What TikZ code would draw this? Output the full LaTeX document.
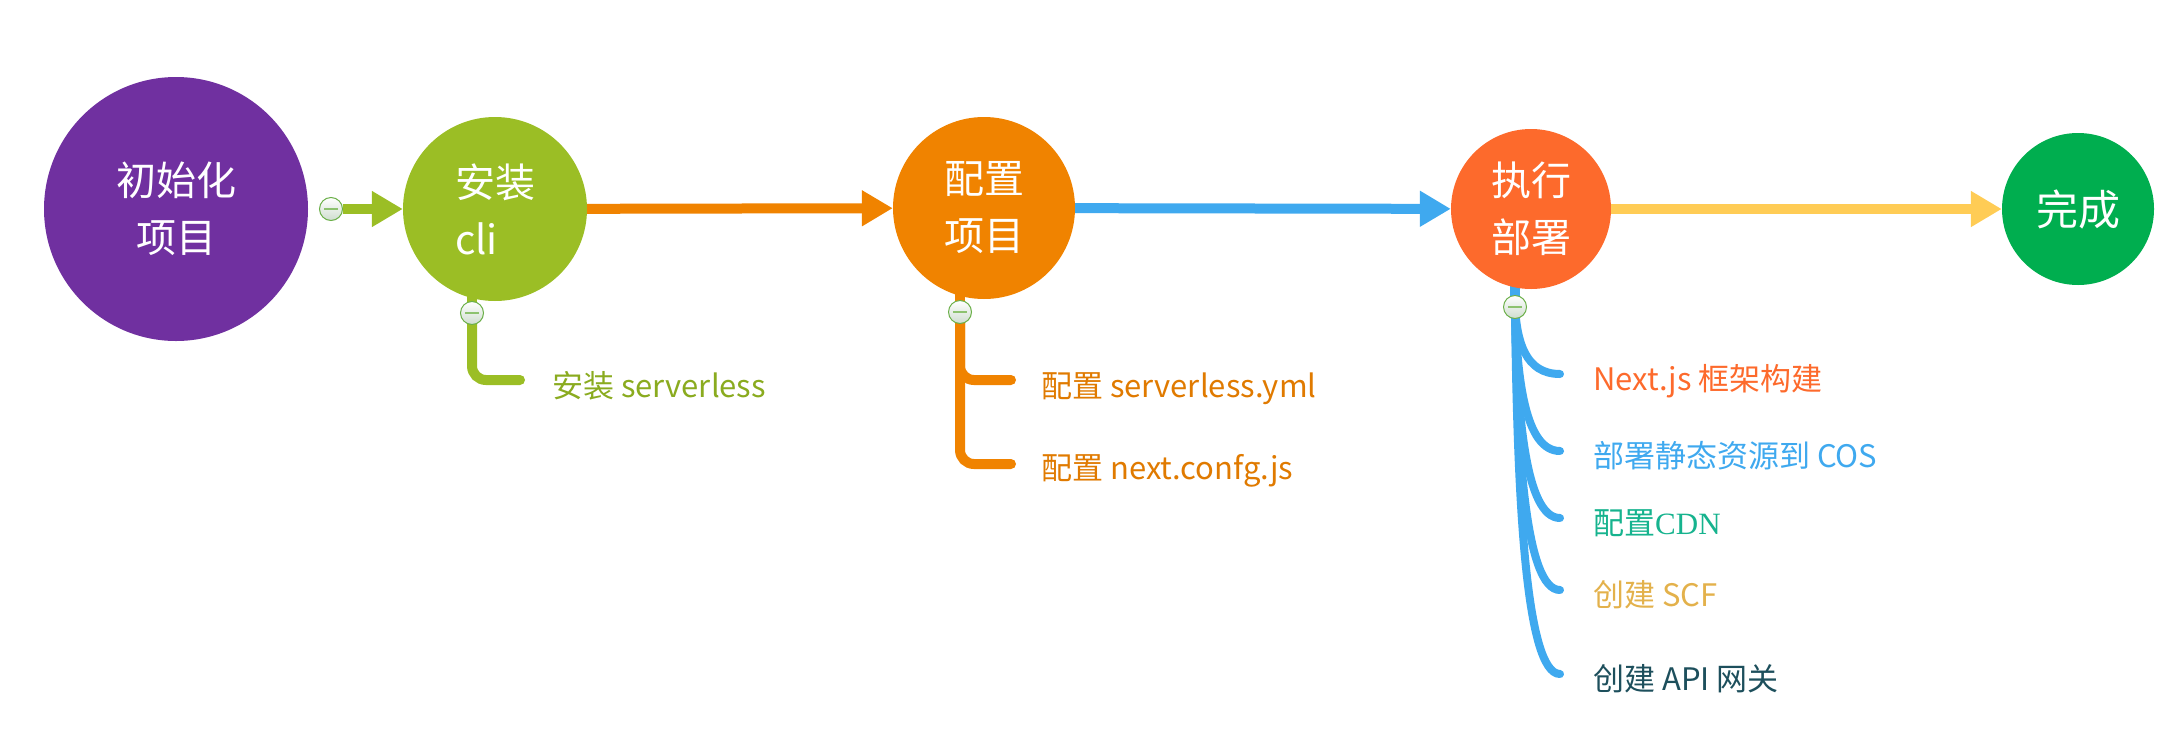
\documentclass[tikz,border=0pt]{standalone}
\usepackage{fontspec}
\setmainfont{Noto Sans CJK SC}
\newfontfamily\cdnfont{Liberation Serif}
\usetikzlibrary{arrows.meta,backgrounds}

\definecolor{initPurple}{HTML}{7030A0}
\definecolor{cliGreen}{HTML}{9BBE25}
\definecolor{cfgOrange}{HTML}{F08300}
\definecolor{runRed}{HTML}{FD6A2C}
\definecolor{doneGreen}{HTML}{00AE4F}
\definecolor{flowBlue}{HTML}{3FA9EF}
\definecolor{flowYellow}{HTML}{FFCC55}
\definecolor{cliText}{HTML}{8AAB1F}
\definecolor{cfgText}{HTML}{E07A00}
\definecolor{cdnTeal}{HTML}{16B38E}
\definecolor{scfGold}{HTML}{E3B14B}
\definecolor{apiTeal}{HTML}{1D4F5C}
\definecolor{toggleRim}{HTML}{6AAF48}
\definecolor{toggleFill}{HTML}{CFDDCF}
\definecolor{toggleDash}{HTML}{8DC26F}

\begin{document}
\begin{tikzpicture}[x=1pt, y=-1pt,
    phase/.style={circle, inner sep=0pt, text=white, align=center,
        font=\fontsize{40}{57}\selectfont},
    toggle/.style={circle, draw=toggleRim, line width=1pt, top color=white,
        bottom color=toggleFill, minimum size=23pt, inner sep=0pt,
        path picture={\draw[toggleDash, line width=2.5pt]
            ([xshift=-7pt]path picture bounding box.center) --
            ([xshift=7pt]path picture bounding box.center);}},
    flow/.style={line width=10pt, -{Triangle[length=31pt, width=34pt]}},
    twig/.style={line width=10pt, line cap=round, rounded corners=14pt},
    bough/.style={flowBlue, line width=8pt, line cap=round, shorten >=33pt},
    leaf/.style={anchor=west, inner sep=0pt, text height=26pt, text depth=3pt,
        font=\fontsize{31}{36}\selectfont}
]
    \useasboundingbox (0,0) rectangle (2184,734);

    \node[phase, fill=initPurple, minimum size=264pt] (init) at (176,209) {初始化\\项目};
    \node[phase, fill=cliGreen, minimum size=184pt, align=left] (cli) at (495,209) {安装\\cli};
    \node[phase, fill=cfgOrange, minimum size=182pt] (cfg) at (984,208) {配置\\项目};
    \node[phase, fill=runRed, minimum size=160pt] (run) at (1531,209) {执行\\部署};
    \node[phase, fill=doneGreen, minimum size=152pt, font=\fontsize{42}{57}\selectfont] (done) at (2078,209) {完成};

    \node[toggle] (btn1) at (331,209) {};
    \node[toggle] (btn2) at (472,313) {};
    \node[toggle] (btn3) at (960,312) {};
    \node[toggle] (btn4) at (1515,307) {};

    \node[leaf, text=cliText] (sls) at (552,386) {安装 serverless};
    \node[leaf, text=cfgText] (yml) at (1041,386) {配置 serverless.yml};
    \node[leaf, text=cfgText] (nxt) at (1041,468) {配置 next.confg.js};
    \node[leaf, text=runRed] (build) at (1593,379) {Next.js 框架构建};
    \node[leaf, text=flowBlue] (cos) at (1593,456) {部署静态资源到 COS};
    \node[leaf, text=cdnTeal] (cdn) at (1593,523) {配置{\cdnfont CDN}};
    \node[leaf, text=scfGold] (scf) at (1593,595) {创建 SCF};
    \node[leaf, text=apiTeal] (api) at (1593,679) {创建 API 网关};

    \draw[flow, cliGreen] (btn1) -- (cli);
    \draw[flow, cfgOrange] (cli) -- (cfg);
    \draw[flow, flowBlue] (cfg) -- (run);
    \draw[flow, flowYellow] (run) -- (done);

    \begin{scope}[on background layer]
        \draw[twig, cliGreen] (btn2.center) -- (btn2 |- cli.center);
        \draw[twig, cliGreen, shorten >=32pt] (btn2.center) |- ([yshift=6pt]sls.west);
        \draw[twig, cfgOrange] (btn3.center) -- (btn3 |- cfg.center);
        \draw[twig, cfgOrange, shorten >=30pt] (btn3.center) |- ([yshift=6pt]yml.west);
        \draw[twig, cfgOrange, shorten >=30pt] (btn3.center) |- ([yshift=4pt]nxt.west);
        \draw[twig, flowBlue] (btn4.center) -- (btn4 |- run.center);
        \foreach \twigend/\dy in {build/68, cos/143, cdn/209, scf/283, api/366}
            \draw[bough] (btn4.center) .. controls +(2,0.5*\dy) and +(-68,0) .. ([yshift=5pt]\twigend.west);
    \end{scope}
\end{tikzpicture}
\end{document}
